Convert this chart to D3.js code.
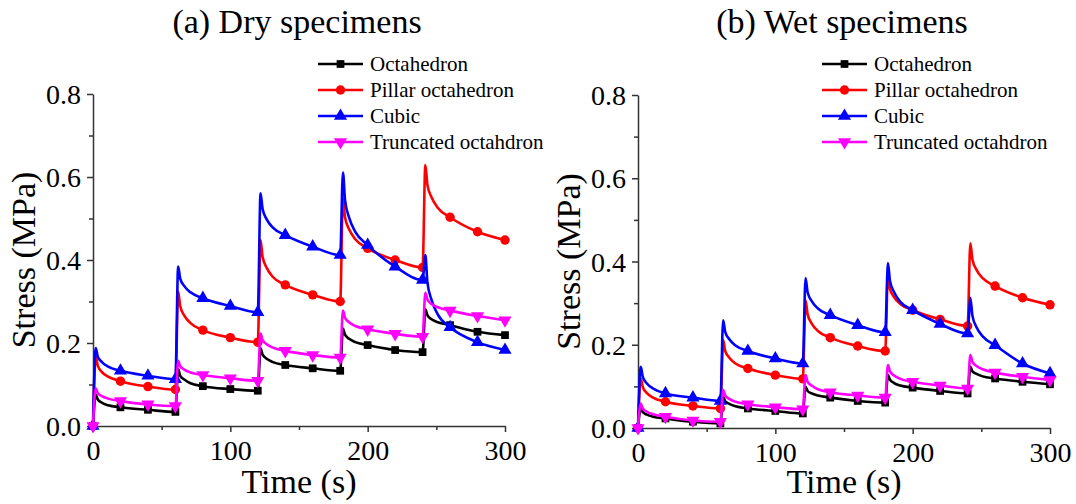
<!DOCTYPE html>
<html>
<head>
<meta charset="utf-8">
<script src="https://cdn.jsdelivr.net/npm/d3@7"></script>
<style>
  body { margin: 0; background: #fff; }
  svg text { font-family: "Times New Roman", "Liberation Serif", serif; }
</style>
</head>
<body>
<svg class="chart"></svg>
<script>
// time stamps (s) shared by every curve
const times = [0,
  2, 3.5, 6.5, 11, 20, 40, 60,
  62, 63.5, 66.5, 71, 80, 100, 120,
  122, 123.5, 126.5, 131, 140, 160, 180,
  182, 183.5, 186.5, 191, 200, 220, 240,
  242, 243.5, 246.5, 251, 260, 280, 300];

const seriesNames = ['Octahedron', 'Pillar octahedron', 'Cubic', 'Truncated octahdron'];
const panelTitles = ['(a) Dry specimens', '(b) Wet specimens'];
const xTicks = [0, 100, 200, 300];
const xMinor = [50, 150, 250];
const yTicks = [0, 0.2, 0.4, 0.6, 0.8];
const yMinor = [0.1, 0.3, 0.5, 0.7];

// (a) dry
const dryOcta = [0,
  .075,.064,.056,.050,.045,.039,.034,
  .137,.121,.112,.103,.096,.089,.085,
  .187,.172,.162,.154,.147,.139,.133,
  .235,.220,.210,.202,.195,.183,.178,
  .281,.267,.257,.250,.243,.227,.219];
const dryPillar = [0,
  .167,.145,.130,.119,.108,.095,.088,
  .324,.289,.266,.248,.231,.213,.202,
  .448,.407,.381,.359,.340,.316,.300,
  .549,.503,.474,.450,.428,.400,.382,
  .629,.581,.551,.526,.503,.468,.448];
const dryCubic = [0,
  .188,.167,.154,.143,.133,.121,.113,
  .384,.355,.337,.322,.308,.289,.274,
  .561,.523,.498,.478,.460,.432,.412,
  .611,.545,.502,.468,.436,.384,.352,
  .412,.346,.304,.269,.238,.202,.183];
const dryTrunc = [0,
  .091,.079,.072,.066,.060,.052,.048,
  .157,.144,.136,.129,.123,.115,.109,
  .223,.207,.197,.189,.181,.171,.165,
  .278,.261,.250,.241,.233,.222,.215,
  .321,.305,.294,.286,.278,.265,.255];

// (b) wet
const wetOcta = [0,
  .047,.038,.032,.027,.023,.015,.011,
  .075,.064,.058,.052,.047,.041,.035,
  .099,.089,.083,.078,.073,.065,.061,
  .127,.116,.108,.102,.097,.089,.083,
  .147,.136,.130,.124,.119,.111,.105];
const wetPillar = [0,
  .119,.098,.084,.073,.063,.053,.047,
  .211,.185,.169,.155,.143,.127,.118,
  .307,.273,.251,.233,.217,.197,.185,
  .365,.334,.314,.298,.283,.261,.245,
  .444,.405,.380,.360,.341,.313,.296];
const wetCubic = [0,
  .147,.123,.107,.095,.083,.073,.065,
  .259,.231,.213,.198,.185,.167,.155,
  .360,.326,.305,.287,.271,.247,.230,
  .396,.353,.326,.303,.283,.250,.227,
  .313,.270,.242,.220,.199,.155,.131];
const wetTrunc = [0,
  .059,.047,.039,.033,.027,.018,.015,
  .091,.078,.070,.063,.057,.050,.045,
  .127,.111,.102,.093,.086,.078,.073,
  .151,.136,.126,.118,.111,.102,.095,
  .175,.159,.149,.141,.133,.123,.115];

const colors = ['#000000', '#ff0000', '#0000ff', '#ff00ff'];
const symbols = [d3.symbolSquare, d3.symbolCircle, d3.symbolTriangle, d3.symbolTriangle];
const symSize = [60, 70, 75, 75];
const symRot = [0, 0, 0, 180];
const serif = '"Times New Roman", "Liberation Serif", serif';

const width = 1076, height = 504;
const svg = d3.select('.chart').attr('width', width).attr('height', height)
  .style('background-color', '#fff');

const panels = [
  {title: panelTitles[0], data: [dryOcta, dryPillar, dryCubic, dryTrunc], x0: 93, x1: 505, y0: 426, y1: 94, legX: 318},
  {title: panelTitles[1], data: [wetOcta, wetPillar, wetCubic, wetTrunc], x0: 638, x1: 1050, y0: 428, y1: 95, legX: 822}
];

panels.forEach(p => {
  const x = d3.scaleLinear().domain([0, 300]).range([p.x0, p.x1]);
  const y = d3.scaleLinear().domain([0, 0.8]).range([p.y0, p.y1]);
  const g = svg.append('g');

  // axes
  const xAxis = g.append('g').attr('transform', `translate(0,${p.y0})`)
    .call(d3.axisBottom(x).tickValues(xTicks).tickSize(6).tickSizeOuter(0).tickFormat(d3.format('d')))
    .attr('font-family', serif);
  g.append('g').attr('transform', `translate(0,${p.y0})`)
    .call(d3.axisBottom(x).tickValues(xMinor).tickSize(4).tickSizeOuter(0).tickFormat(''))
    .select('.domain').remove();
  xAxis.selectAll('text').attr('dy', null).attr('y', 34)
    .style('font-family', serif).style('font-size', '28px').attr('fill', '#000');

  const yAxis = g.append('g').attr('transform', `translate(${p.x0},0)`)
    .call(d3.axisLeft(y).tickValues(yTicks).tickSize(6).tickSizeOuter(0).tickFormat(d3.format('.1f')))
    .attr('font-family', serif);
  g.append('g').attr('transform', `translate(${p.x0},0)`)
    .call(d3.axisLeft(y).tickValues(yMinor).tickSize(4).tickSizeOuter(0).tickFormat(''))
    .select('.domain').remove();
  yAxis.selectAll('text').attr('x', -12).attr('dy', '0.34em')
    .style('font-family', serif).style('font-size', '28px').attr('fill', '#000');

  g.selectAll('.domain, .tick line').attr('stroke', '#333').attr('stroke-width', 1.5);

  // axis titles
  g.append('text').attr('x', (p.x0 + p.x1) / 2).attr('y', 493)
    .attr('text-anchor', 'middle').style('font-size', '34px').text('Time (s)');
  g.append('text')
    .attr('transform', `translate(${p.x0 - 58},${(p.y0 + p.y1) / 2}) rotate(-90)`)
    .attr('text-anchor', 'middle').style('font-size', '34px').text('Stress (MPa)');
  g.append('text').attr('x', (p.x0 + p.x1) / 2 - 2).attr('y', 33)
    .attr('text-anchor', 'middle').style('font-size', '34px').text(p.title);

  // curves
  const line = d3.line()
    .x(d => x(d[0])).y(d => y(d[1]))
    .curve(d3.curveMonotoneX);

  p.data.forEach((vals, i) => {
    const pts = times.map((t, k) => [t, vals[k]]);
    g.append('path').datum(pts)
      .attr('d', line)
      .attr('fill', 'none')
      .attr('stroke', colors[i])
      .attr('stroke-width', 2.6)
      .attr('stroke-linejoin', 'round');

    g.selectAll(null)
      .data(pts.filter(d => d[0] % 20 === 0))
      .enter().append('path')
      .attr('d', d3.symbol().type(symbols[i]).size(symSize[i]))
      .attr('transform', d => `translate(${x(d[0])},${y(d[1])}) rotate(${symRot[i]})`)
      .attr('fill', colors[i]);
  });

  // legend
  const leg = g.append('g');
  seriesNames.forEach((name, i) => {
    const ly = 64 + i * 26;
    leg.append('line')
      .attr('x1', p.legX).attr('x2', p.legX + 45)
      .attr('y1', ly).attr('y2', ly)
      .attr('stroke', colors[i]).attr('stroke-width', 2.6);
    leg.append('path')
      .attr('d', d3.symbol().type(symbols[i]).size(symSize[i]))
      .attr('transform', `translate(${p.legX + 22.5},${ly}) rotate(${symRot[i]})`)
      .attr('fill', colors[i]);
    leg.append('text')
      .attr('x', p.legX + 52).attr('y', ly + 7)
      .style('font-size', '21px').attr('fill', '#000')
      .text(name);
  });
});
</script>
</body>
</html>
